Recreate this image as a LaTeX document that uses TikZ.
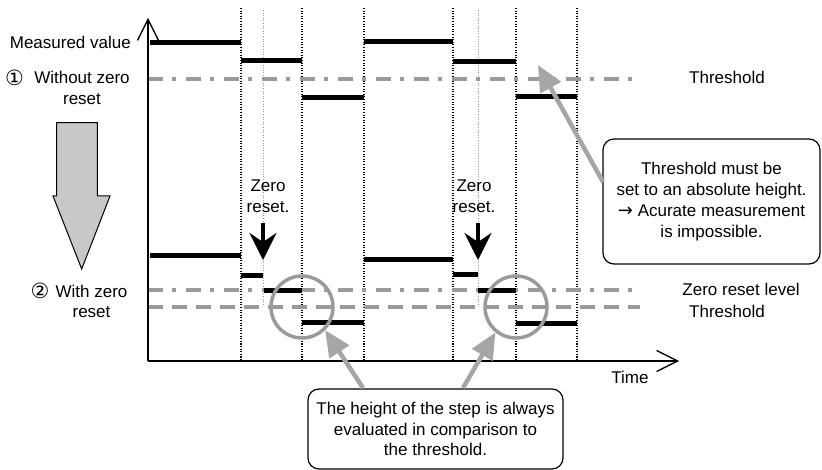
\documentclass[tikz,border=0pt]{standalone}
\usepackage{fontspec}
\setmainfont{Liberation Sans}
\newfontfamily\symfont{DejaVu Sans}
\usetikzlibrary{arrows.meta}
\definecolor{lgray}{HTML}{9A9A9A}
\definecolor{fgray}{HTML}{C8C8C8}
\definecolor{agray}{HTML}{A6A6A6}
\tikzset{
  txt/.style={font=\fontsize{17}{20.5}\selectfont, inner sep=0pt, align=center},
  bar/.style={line width=5pt},
  vdot/.style={line width=1.3pt, dash pattern=on 1.1pt off 1.5pt},
  vdotl/.style={line width=1pt, lgray, dash pattern=on 1.1pt off 1.5pt},
  dashdot/.style={lgray, line width=3.5pt, dash pattern=on 15pt off 9pt on 4pt off 10pt},
  dashline/.style={lgray, line width=3.5pt, dash pattern=on 15pt off 9pt},
  axis/.style={line width=1.3pt, -{Straight Barb[length=21pt,width=21pt]}},
  zarrow/.style={line width=4pt, -{Stealth[length=27pt,width=27pt,inset=9pt]}},
  garrow/.style={agray, line width=4.5pt, -{Triangle[length=26pt,width=23pt]}},
  ring/.style={circle, draw=lgray, line width=3.5pt, minimum size=62pt, inner sep=0pt},
  callout/.style={draw, rounded corners=11pt, line width=1.2pt, inner sep=0pt, txt},
  digit/.style={inner sep=0pt, font=\symfont\fontsize{21}{24}\selectfont}
}
\begin{document}
\begin{tikzpicture}[x=1pt,y=-1pt]
\useasboundingbox (0,0) rectangle (822,470);

% dotted verticals
\foreach \x in {241,302,364,453,516,577}
  \draw[vdot] (\x,8) -- (\x,361);
\foreach \x in {263,478}
  \draw[vdotl] (\x,10) -- (\x,306);

% reference lines
\draw[dashdot] (148,79) -- (640,79);
\draw[dashdot] (148,290) -- (640,290);
\draw[dashline] (148,307) -- (640,307);

% axes
\coordinate (o) at (148,361);
\coordinate (ytop) at (148,18);
\coordinate (xend) at (679,361);
\draw[axis] (o) -- (ytop);
\draw[axis] (o) -- (xend);

% upper bars
\draw[bar] (150,42.5) -- (241,42.5);
\draw[bar] (241,60.5) -- (302,60.5);
\draw[bar] (302,98) -- (364,98);
\draw[bar] (364,41.5) -- (453,41.5);
\draw[bar] (453,61.5) -- (516,61.5);
\draw[bar] (516,97) -- (577,97);

% lower bars
\draw[bar] (150,256) -- (241,256);
\draw[bar] (241,275.5) -- (263,275.5);
\draw[bar] (264,290.5) -- (302,290.5);
\draw[bar] (302,322.5) -- (364,322.5);
\draw[bar] (364,260) -- (453,260);
\draw[bar] (453,275) -- (478,275);
\draw[bar] (478,291) -- (516,291);
\draw[bar] (516,323.5) -- (577,323.5);

% zero reset arrows
\coordinate (za1) at (263,223);
\coordinate (zb1) at (263,260);
\coordinate (za2) at (478,223);
\coordinate (zb2) at (478,260);
\draw[zarrow] (za1) -- (zb1);
\draw[zarrow] (za2) -- (zb2);
\node[txt] (zr1) at (268,196) {Zero\\reset.};
\node[txt] (zr2) at (474,196) {Zero\\reset.};

% big down arrow
\draw[fill=fgray, line width=1pt, line join=miter]
  (56.7,122.7) -- (97.3,122.7) -- (97.3,196) -- (110,196) -- (81.7,269)
  -- (53,196) -- (56.7,196) -- cycle;

% left labels
\node[txt, anchor=east] (mv) at (131,42) {Measured value};
\node[digit] (n1) at (14.5,78) {①};
\node[txt] (l1) at (82,88) {Without zero\\reset};
\node[digit] (n2) at (40,291) {②};
\node[txt] (l2) at (91.5,301.5) {With zero\\reset};

% right labels
\node[txt] (th1) at (727,77) {Threshold};
\node[txt] (zrl) at (741,289) {Zero reset level};
\node[txt] (th2) at (727,311) {Threshold};
\node[txt] (time) at (630,377) {Time};

% circles
\node[ring] (c1) at (302,307) {};
\node[ring] (c2) at (516,307) {};

% callouts
\node[callout, minimum width=217pt, minimum height=125pt] (rbox) at (711.5,201.5)
  {Threshold must be\\set to an absolute height.\\[1pt]{\symfont\fontsize{18}{16}\selectfont →} Acurate measurement\\is impossible.};
\node[callout, minimum width=255pt, minimum height=80pt] (bbox) at (435.5,429)
  {The height of the step is always\\evaluated in comparison to\\the threshold.};

% callout arrows
\coordinate (s3) at (603,182);
\coordinate (t3) at (538,65);
\draw[garrow] (s3) -- (t3);
\coordinate (s1) at (363,388);
\coordinate (s2) at (463,388);
\draw[garrow] (s1) -- (c1.-45);
\draw[garrow] (s2) -- (c2.-129);
\end{tikzpicture}
\end{document}
